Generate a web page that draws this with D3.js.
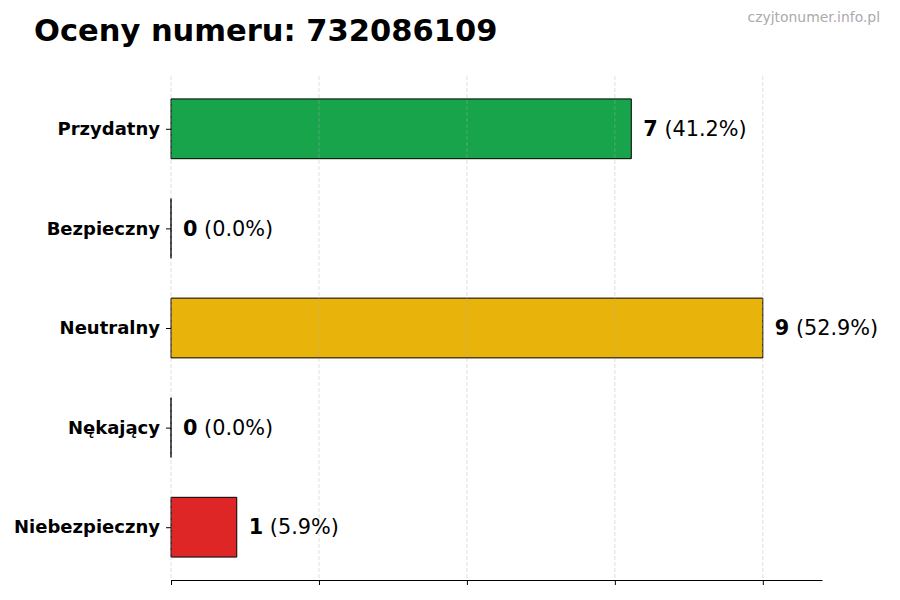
<!DOCTYPE html>
<html>
<head>
<meta charset="utf-8">
<script src="https://cdn.jsdelivr.net/npm/d3@7"></script>
<style>
  body { margin: 0; background: #fff; }
  svg { display: block; font-family: 'DejaVu Sans', sans-serif; }
</style>
</head>
<body>
<div id="chart"></div>
<script>
const categories = ['Przydatny', 'Bezpieczny', 'Neutralny', 'Nękający', 'Niebezpieczny'];
const counts = [7, 0, 9, 0, 1];
const percents = ['41.2', '0.0', '52.9', '0.0', '5.9'];
const barColors = ['#17a44a', '#17a44a', '#e8b30b', '#e8b30b', '#de2626'];
const xTicks = [0, 2.25, 4.5, 6.75, 9];

const width = 900;
const height = 600;
const margin = { top: 76, right: 78, bottom: 20, left: 171 };

const svg = d3.select('#chart')
  .append('svg')
  .attr('width', width)
  .attr('height', height);

const x = d3.scaleLinear()
  .domain([0, d3.max(counts) * 1.1])
  .range([margin.left, width - margin.right]);

const y = d3.scalePoint()
  .domain(categories)
  .range([margin.top, height - margin.bottom])
  .padding(0.53);

const barHeight = y.step() * 0.6;

const data = categories.map((c, i) => ({ cat: c, n: counts[i], pct: percents[i], color: barColors[i] }));

// bars as paths so zero-width bars still show their edge
const barPath = (d) => {
  const x0 = x(0);
  const w = x(d.n) - x0;
  const y0 = y(d.cat) - barHeight / 2;
  return `M${x0},${y0}h${w}v${barHeight}h${-w}Z`;
};

svg.append('g')
  .selectAll('path')
  .data(data)
  .join('path')
  .attr('d', barPath)
  .attr('fill', (d) => d.color)
  .attr('stroke', '#000')
  .attr('stroke-width', 1);

// gridlines (drawn over the bars, like the original)
svg.append('g')
  .selectAll('line')
  .data(xTicks)
  .join('line')
  .attr('x1', (d) => x(d))
  .attr('x2', (d) => x(d))
  .attr('y1', margin.top)
  .attr('y2', height - margin.bottom)
  .attr('stroke', '#b0b0b0')
  .attr('stroke-opacity', 0.5)
  .attr('stroke-dasharray', '4,2')
  .attr('stroke-width', 0.8);

// x axis, no labels
svg.append('g')
  .attr('transform', `translate(0,${height - margin.bottom})`)
  .call(d3.axisBottom(x).tickValues(xTicks).tickFormat('').tickSize(5).tickSizeOuter(0))
  .call((g) => g.select('.domain').attr('stroke-width', 1.2))
  .call((g) => g.selectAll('.tick line').attr('stroke-width', 1));

// y axis
svg.append('g')
  .attr('transform', `translate(${margin.left},0)`)
  .call(d3.axisLeft(y).tickSize(5).tickPadding(6))
  .call((g) => g.select('.domain').remove())
  .call((g) => g.selectAll('.tick text')
    .attr('font-family', "'DejaVu Sans', sans-serif")
    .attr('font-size', 18)
    .attr('font-weight', 'bold')
    .attr('fill', '#000'));

// value labels
const labels = svg.append('g')
  .selectAll('text')
  .data(data)
  .join('text')
  .attr('x', (d) => x(d.n) + 12)
  .attr('y', (d) => y(d.cat))
  .attr('dy', '0.35em')
  .attr('font-size', 20.8)
  .attr('fill', '#000');

labels.append('tspan')
  .attr('font-weight', 'bold')
  .text((d) => d.n);

labels.append('tspan')
  .text((d) => ` (${d.pct}%)`);

// title
svg.append('text')
  .attr('x', 34)
  .attr('y', 41)
  .attr('font-size', 30.5)
  .attr('font-weight', 'bold')
  .attr('fill', '#000')
  .text('Oceny numeru: 732086109');

// watermark
svg.append('text')
  .attr('x', 880)
  .attr('y', 22)
  .attr('text-anchor', 'end')
  .attr('font-size', 13.9)
  .attr('fill', '#aaaaaa')
  .text('czyjtonumer.info.pl');
</script>
</body>
</html>
